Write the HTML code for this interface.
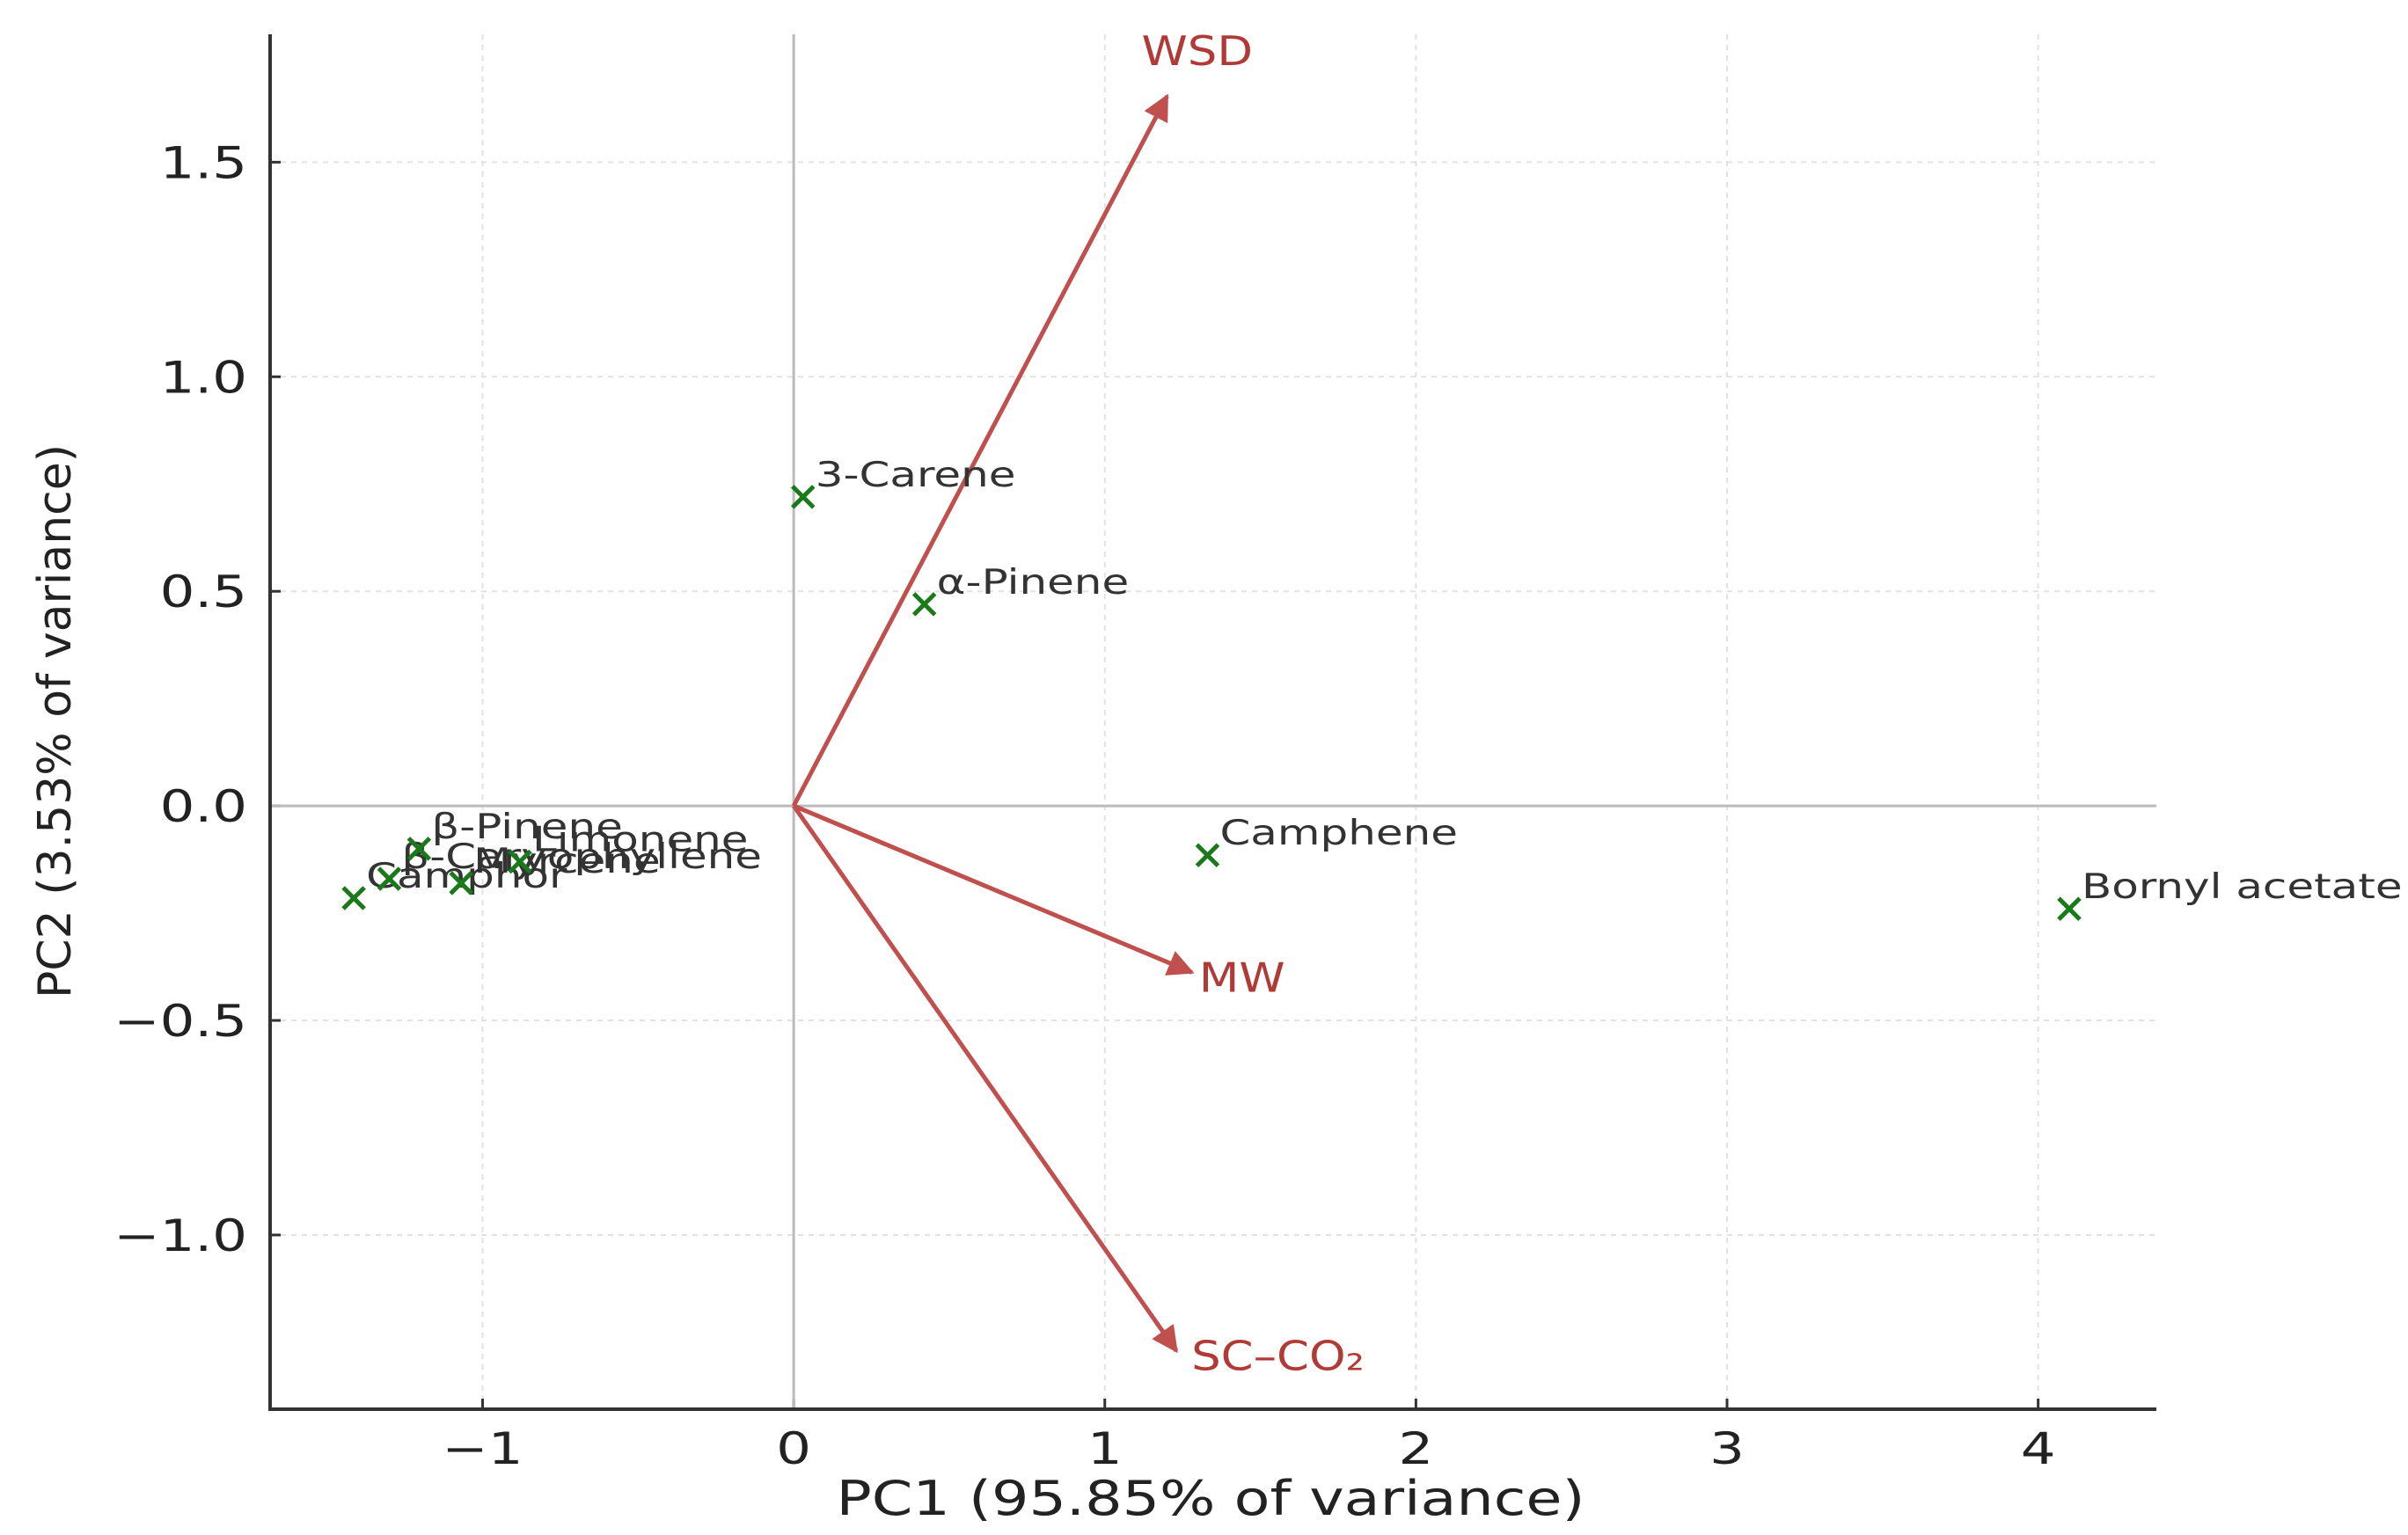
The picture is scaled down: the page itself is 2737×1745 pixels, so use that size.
<!DOCTYPE html>
<html><head><meta charset="utf-8"><style>
html,body{margin:0;padding:0;background:#fff;}
svg{display:block;font-family:"DejaVu Sans","Liberation Sans",sans-serif;}
</style></head><body>
<svg id="chart" width="2737" height="1745" viewBox="0 0 2737 1745" xmlns="http://www.w3.org/2000/svg">
<defs><marker id="ah" viewBox="0 0 10 10" refX="9" refY="5" markerWidth="6" markerHeight="6" orient="auto-start-reverse"><path d="M0,0 L10,5 L0,10 z" fill="#c0504d"/></marker></defs>
<g id="grid"></g><g id="axes"></g><g id="arrows"></g><g id="points"></g>
</svg>
<script>
const xTicks=[-1,0,1,2,3,4];
const xTickLabels=["\u22121","0","1","2","3","4"];
const yTicks=[-1.0,-0.5,0.0,0.5,1.0,1.5];
const yTickLabels=["\u22121.0","\u22120.5","0.0","0.5","1.0","1.5"];
const pointNames=["3-Carene","\u03b1-Pinene","Camphene","Bornyl acetate","Camphor","\u03b2-Caryophyllene","\u03b2-Pinene","Myrcene","Limonene"];
const pointX=[0.03,0.42,1.33,4.10,-1.414,-1.30,-1.204,-1.069,-0.88];
const pointY=[0.72,0.47,-0.115,-0.24,-0.215,-0.17,-0.10,-0.18,-0.13];
const loadNames=["WSD","MW","SC\u2013CO\u2082"];
const loadX=[1.20,1.28,1.23];
const loadY=[1.654,-0.388,-1.27];
const L=307,R=2451,T=39,B=1602,xmin=-1.683,xmax=4.38,ymin=-1.406,ymax=1.798;
const sx=v=>L+(v-xmin)/(xmax-xmin)*(R-L);
const sy=v=>B-(v-ymin)/(ymax-ymin)*(B-T);
const NS="http://www.w3.org/2000/svg";
function mk(tag,parent,attrs,text){const e=document.createElementNS(NS,tag);for(const k in attrs)e.setAttribute(k,attrs[k]);if(text!==undefined)e.textContent=text;document.getElementById(parent).appendChild(e);return e;}
function stretch(t,f){const w=t.getComputedTextLength();t.setAttribute('textLength',w*f);t.setAttribute('lengthAdjust','spacingAndGlyphs');}
xTicks.forEach((v,i)=>{
 const g=mk('line','grid',{x1:sx(v),x2:sx(v),y1:T,y2:B,stroke:'#e2e2e2','stroke-width':2,'stroke-dasharray':'6,6'});
 
 
 const t=mk('line','axes',{x1:sx(v),x2:sx(v),y1:B,y2:B-12,stroke:'#333','stroke-width':3});
 
 
 const l=mk('text','axes',{x:sx(v),y:B+62,'font-size':50,'text-anchor':'middle',fill:'#222'},xTickLabels[i]);
 
 
 stretch(l,1.25);
});
yTicks.forEach((v,i)=>{
 const g=mk('line','grid',{x1:L,x2:R,y1:sy(v),y2:sy(v),stroke:'#e2e2e2','stroke-width':2,'stroke-dasharray':'6,6'});
 
 
 const t=mk('line','axes',{x1:L,x2:L+12,y1:sy(v),y2:sy(v),stroke:'#333','stroke-width':3});
 
 
 const l=mk('text','axes',{x:L-26,y:sy(v)+18,'font-size':50,'text-anchor':'end',fill:'#222'},yTickLabels[i]);
 
 
 stretch(l,1.25);
});
let e;
e=mk('line','axes',{x1:sx(0),x2:sx(0),y1:T,y2:B,stroke:'#bbb','stroke-width':3});


e=mk('line','axes',{x1:L,x2:R,y1:sy(0),y2:sy(0),stroke:'#bbb','stroke-width':3});


e=mk('path','axes',{d:`M${L},${T} L${L},${B} L${R},${B}`,fill:'none',stroke:'#333','stroke-width':4});


e=mk('text','axes',{x:1376,y:1722,'font-size':54,'text-anchor':'middle',fill:'#222'},'PC1 (95.85% of variance)');


e.setAttribute('textLength',851);
e.setAttribute('lengthAdjust','spacingAndGlyphs');
e=mk('text','axes',{x:0,y:0,'font-size':52,'text-anchor':'middle',fill:'#222',transform:`translate(80,820) rotate(-90)`},'PC2 (3.53% of variance)');


const lblDx=[-29,8,17], lblDy=[-35,22,22];
loadNames.forEach((n,i)=>{
 const a=mk('line','arrows',{x1:sx(0),y1:sy(0),x2:sx(loadX[i]),y2:sy(loadY[i]),stroke:'#c0504d','stroke-width':5,'marker-end':'url(#ah)'});
 
 
 const t=mk('text','arrows',{x:sx(loadX[i])+lblDx[i],y:sy(loadY[i])+lblDy[i],'font-size':46,fill:'#b03a36'},n);
 
 
 stretch(t,1.15);
});
pointNames.forEach((n,i)=>{
 const x=sx(pointX[i]),y=sy(pointY[i]),s=12;
 const p=mk('path','points',{d:`M${x-s},${y-s}L${x+s},${y+s}M${x-s},${y+s}L${x+s},${y-s}`,stroke:'#1a7a1a','stroke-width':5});
 
 
 const t=mk('text','points',{x:x+14,y:y-12,'font-size':39,fill:'#333'},n);
 
 
 stretch(t,1.28);
});
</script>
</body></html>
